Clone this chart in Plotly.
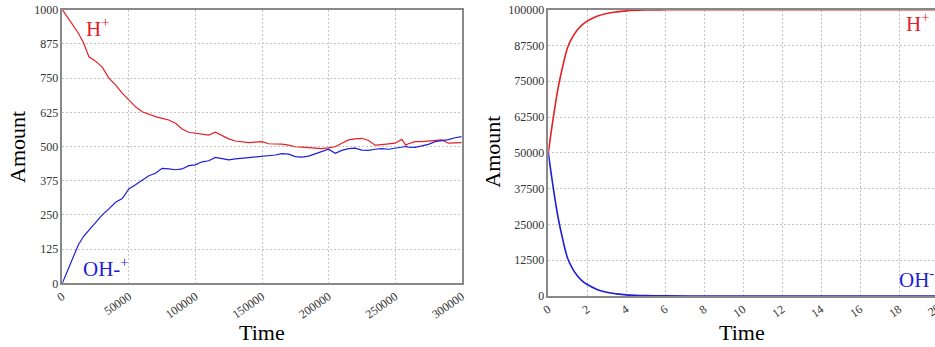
import plotly.graph_objects as go

# ---- left panel: stochastic simulation ----
t_left = [0, 4000, 8000, 12000, 16000,
          20000, 25000, 30000, 35000, 40000, 45000, 50000, 55000, 60000, 65000,
          70000, 75000, 80000, 85000, 90000, 95000, 100000, 105000, 110000, 115000,
          120000, 125000, 130000, 135000, 140000, 145000, 150000, 155000, 160000, 165000,
          170000, 175000, 180000, 185000, 190000, 195000, 200000, 205000, 210000, 215000,
          220000, 225000, 230000, 235000, 240000, 245000, 250000, 255000,
          258000,
          260000, 265000, 270000, 275000, 280000, 285000, 290000, 295000, 300000]
h_left = [1000, 972, 947, 915, 878,
          828, 812, 790, 750, 725, 695, 668, 645, 627, 617,
          609, 603, 597, 585, 564, 552, 548, 545, 542, 552,
          540, 528, 520, 516, 514, 516, 518, 510, 509, 509,
          505, 499, 498, 496, 494, 492, 495, 499, 512, 524,
          528, 530, 522, 505, 507, 510, 512, 526,
          505,
          510, 518, 518, 520, 524, 524, 512, 512, 514]
oh_left = [0, 48, 96, 140, 172,
           195, 222, 250, 272, 296, 310, 345, 360, 378, 393,
           402, 420, 418, 415, 418, 430, 433, 444, 448, 460,
           456, 451, 455, 457, 460, 462, 465, 466, 469, 474,
           472, 463, 461, 465, 473, 483, 490, 475, 486, 492,
           494, 487, 486, 490, 492, 490, 494, 499,
           500,
           498, 497, 502, 508, 518, 522, 525, 532, 536]

# ---- right panel: deterministic simulation ----
t_right = [0, 0.25, 0.5, 0.75, 1.0, 1.25, 1.5, 1.75, 2.0, 2.5, 3.0, 3.5, 4.0, 5.0, 6.0,
           8.0, 10, 12, 14, 16, 18, 20]
h_right = [50000, 62000, 72500, 80500, 87000, 90500, 93000, 94800, 96000, 97700, 98700,
           99250, 99600, 99880, 99960, 100000, 100000, 100000, 100000, 100000, 100000, 100000]
oh_right = [50000, 38000, 27500, 19500, 13000, 9500, 7000, 5200, 4000, 2300, 1300,
            750, 400, 120, 40, 0, 0, 0, 0, 0, 0, 0]

left_yticks = [0, 125, 250, 375, 500, 625, 750, 875, 1000]
left_xticks = [0, 50000, 100000, 150000, 200000, 250000, 300000]
right_yticks = [0, 12500, 25000, 37500, 50000, 62500, 75000, 87500, 100000]
right_xticks = [0, 2, 4, 6, 8, 10, 12, 14, 16, 18, 20]

RED = "rgb(228,32,38)"
BLUE = "rgb(30,30,215)"
FONT = "Liberation Serif"
W, H = 935, 347

fig = go.Figure()
fig.add_trace(go.Scatter(x=t_left, y=h_left, mode="lines", line=dict(color=RED, width=1.2),
                         xaxis="x", yaxis="y", showlegend=False))
fig.add_trace(go.Scatter(x=t_left, y=oh_left, mode="lines", line=dict(color=BLUE, width=1.2),
                         xaxis="x", yaxis="y", showlegend=False))
fig.add_trace(go.Scatter(x=t_right, y=h_right, mode="lines", line=dict(color=RED, width=1.6, shape="spline"),
                         xaxis="x2", yaxis="y2", showlegend=False))
fig.add_trace(go.Scatter(x=t_right, y=oh_right, mode="lines", line=dict(color=BLUE, width=1.6, shape="spline"),
                         xaxis="x2", yaxis="y2", showlegend=False))

axis_common = dict(showgrid=True, gridcolor="#c4c4c4", griddash="2px,2px", gridwidth=1,
                   showline=True, linecolor="#888888", linewidth=1.5, zeroline=False,
                   automargin=False, ticks="", exponentformat="none", separatethousands=False,
                   tickfont=dict(family=FONT, size=12, color="#333333"))

x0L, x1L = 62.3 / W, 461.7 / W
x0R = 548.3 / W
right_end = 20 * (W - 548.3) / (938 - 548.3)

fig.update_layout(
    template="none",
    width=W, height=H,
    margin=dict(l=0, r=0, t=0, b=0, pad=0),
    paper_bgcolor="white", plot_bgcolor="white",
    xaxis=dict(domain=[x0L, x1L], range=[0, 300000], tickvals=left_xticks,
               ticktext=[str(v) for v in left_xticks], tickangle=-35, mirror=True,
               anchor="y", **axis_common),
    yaxis=dict(domain=[1 - 283.3 / H, 1 - 9.7 / H], range=[0, 1000], tickvals=left_yticks,
               ticktext=[str(v) for v in left_yticks], mirror=True, anchor="x", **axis_common),
    xaxis2=dict(domain=[x0R, 1.0], range=[0, right_end], tickvals=right_xticks,
                ticktext=[str(v) for v in right_xticks], tickangle=-35, mirror=True,
                anchor="y2", **axis_common),
    yaxis2=dict(domain=[1 - 296 / H, 1 - 9.7 / H], range=[0, 100000], tickvals=right_yticks,
                ticktext=[str(v) for v in right_yticks], mirror=False, anchor="x2", **axis_common),
)

ann = []
# axis titles
ann.append(dict(text="Amount", x=17 / W, y=1 - 147 / H, textangle=-90))
ann.append(dict(text="Amount", x=491.7 / W, y=1 - 152 / H, textangle=-90))
ann.append(dict(text="Time", x=262 / W, y=1 - 332 / H))
ann.append(dict(text="Time", x=741.7 / W, y=1 - 332 / H))
for a in ann:
    a.update(xref="paper", yref="paper", showarrow=False, xanchor="center", yanchor="middle",
             font=dict(family=FONT, size=22, color="black"))
# series labels
labels = [
    dict(text="H<sup>+</sup>", x=84 / W, y=1 - 27 / H, color=RED),
    dict(text="OH-<sup>+</sup>", x=81 / W, y=1 - 267 / H, color=BLUE),
    dict(text="H<sup>+</sup>", x=904 / W, y=1 - 22 / H, color=RED),
    dict(text="OH<sup>-</sup>", x=897 / W, y=1 - 278 / H, color=BLUE),
]
for l in labels:
    ann.append(dict(text=l["text"], x=l["x"], y=l["y"], xref="paper", yref="paper",
                    showarrow=False, xanchor="left", yanchor="middle",
                    font=dict(family=FONT, size=21, color=l["color"])))
# partially visible last tick label of the right panel
ann.append(dict(text="20", x=946 / W, y=1 - 298 / H, xref="paper", yref="paper",
                showarrow=False, xanchor="right", yanchor="top", textangle=-35,
                font=dict(family=FONT, size=12, color="#333333")))
fig.update_layout(annotations=ann)

fig.write_html("out.html", config={"displayModeBar": False},
               post_script="document.body.style.margin='0';document.body.style.overflow='hidden';")
